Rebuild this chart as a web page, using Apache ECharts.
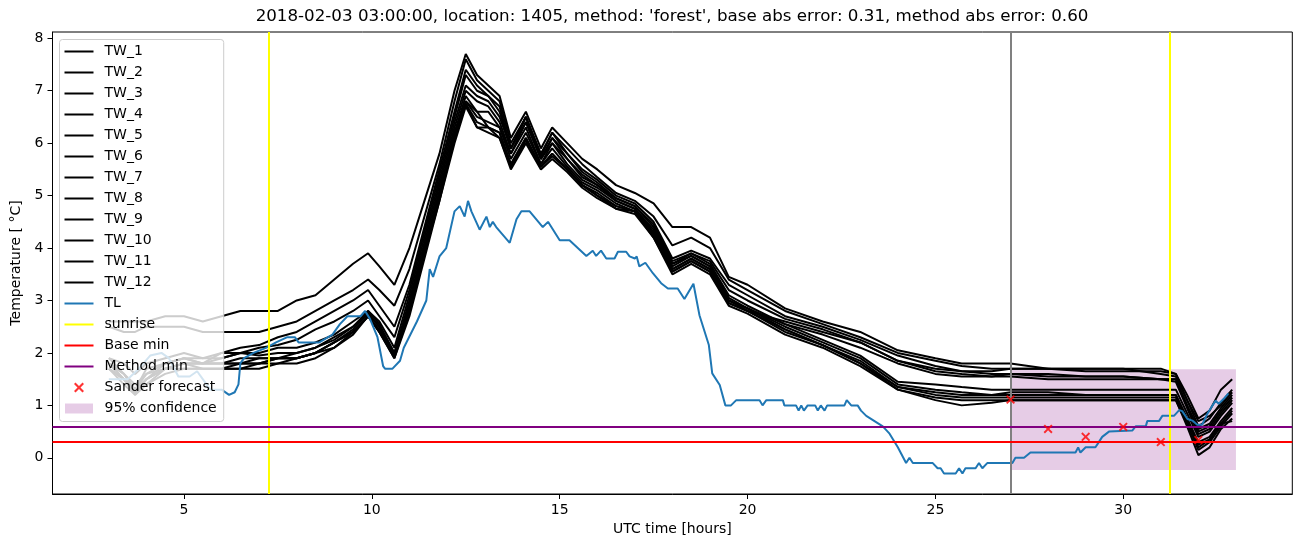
<!DOCTYPE html>
<html>
<head>
<meta charset="utf-8">
<script src="https://cdn.jsdelivr.net/npm/echarts@6/dist/echarts.min.js"></script>
<style>
html, body { margin: 0; padding: 0; background: #fff; }
#main { width: 1302px; height: 547px; }
</style>
</head>
<body>
<div id="main"></div>
<script>
var knotX = [3.0, 3.4, 3.7, 4.0, 4.5, 5.0, 5.5, 6.0, 6.5, 7.0,
  7.5, 8.0, 8.5, 9.0, 9.5, 9.9, 10.2, 10.6, 11.0, 11.4,
  11.8, 12.2, 12.5, 12.8, 13.1, 13.4, 13.7, 14.1, 14.5, 14.8,
  15.2, 15.6, 16.0, 16.5, 17.0, 17.5, 18.0, 18.5, 19.0, 19.5,
  20.0, 21.0, 22.0, 23.0, 24.0, 25.0, 25.7, 26.5, 27.0, 28.0,
  29.0, 30.0, 31.0, 31.4, 31.7, 32.0, 32.3, 32.6, 32.9];

var tw1 = [2.6, 2.6, 2.6, 2.6, 2.7, 2.7, 2.6, 2.7, 2.8, 2.8,
  2.8, 3.0, 3.1, 3.4, 3.7, 3.9, 3.65, 3.3, 4.0, 4.9,
  5.8, 7.0, 7.7, 7.3, 7.1, 6.9, 6.1, 6.6, 5.9, 6.3,
  6.0, 5.7, 5.5, 5.2, 5.05, 4.85, 4.4, 4.4, 4.2, 3.45,
  3.3, 2.85, 2.6, 2.4, 2.05, 1.9, 1.8, 1.8, 1.8, 1.7,
  1.7, 1.7, 1.7, 1.6, 1.2, 0.75, 0.9, 1.3, 1.5];
var tw2 = [2.5, 2.4, 2.4, 2.5, 2.5, 2.5, 2.4, 2.4, 2.4, 2.4,
  2.5, 2.6, 2.8, 3.0, 3.2, 3.4, 3.2, 2.9, 3.6, 4.6,
  5.6, 6.8, 7.6, 7.2, 7.0, 6.8, 6.0, 6.5, 5.8, 6.2,
  5.9, 5.6, 5.35, 5.05, 4.9, 4.6, 4.05, 4.2, 4.0, 3.4,
  3.2, 2.8, 2.55, 2.3, 2.0, 1.85, 1.75, 1.7, 1.7, 1.7,
  1.7, 1.7, 1.6, 1.55, 1.1, 0.6, 0.75, 1.05, 1.3];
var tw3 = [1.9, 1.8, 1.6, 1.8, 1.9, 2.0, 1.9, 2.0, 2.1, 2.15,
  2.3, 2.4, 2.6, 2.8, 3.0, 3.2, 2.9, 2.5, 3.3, 4.4,
  5.5, 6.6, 7.4, 7.1, 6.9, 6.7, 5.9, 6.5, 5.75, 6.2,
  5.8, 5.5, 5.3, 5.0, 4.85, 4.5, 3.8, 3.95, 3.8, 3.3,
  3.1, 2.7, 2.5, 2.25, 1.95, 1.75, 1.65, 1.6, 1.6, 1.6,
  1.55, 1.55, 1.5, 1.5, 1.0, 0.55, 0.65, 0.95, 1.2];
var tw4 = [1.8, 1.5, 1.3, 1.7, 1.8, 1.9, 1.8, 2.0, 2.0, 2.1,
  2.15, 2.25, 2.45, 2.6, 2.8, 3.0, 2.7, 2.3, 3.2, 4.3,
  5.4, 6.5, 7.3, 7.0, 6.9, 6.6, 5.9, 6.5, 5.7, 6.1,
  5.8, 5.45, 5.25, 4.95, 4.8, 4.45, 3.75, 3.9, 3.75, 3.2,
  3.0, 2.65, 2.45, 2.2, 1.85, 1.65, 1.6, 1.55, 1.55, 1.5,
  1.5, 1.5, 1.5, 1.45, 0.95, 0.45, 0.55, 0.85, 1.1];
var tw5 = [1.9, 1.6, 1.3, 1.6, 1.8, 1.9, 1.9, 1.9, 2.0, 2.0,
  2.1, 2.1, 2.2, 2.35, 2.6, 2.8, 2.6, 2.1, 3.1, 4.2,
  5.3, 6.4, 7.1, 6.9, 6.8, 6.5, 5.9, 6.4, 5.7, 6.1,
  5.7, 5.4, 5.2, 4.95, 4.8, 4.4, 3.7, 3.9, 3.7, 3.1,
  2.9, 2.55, 2.25, 1.95, 1.45, 1.4, 1.35, 1.3, 1.3, 1.3,
  1.3, 1.3, 1.3, 1.3, 0.85, 0.4, 0.5, 0.8, 1.05];
var tw6 = [1.8, 1.5, 1.25, 1.5, 1.8, 1.9, 1.8, 1.9, 2.0, 1.95,
  2.0, 2.0, 2.1, 2.3, 2.5, 2.8, 2.55, 2.0, 3.0, 4.1,
  5.2, 6.3, 7.0, 6.8, 6.7, 6.4, 5.8, 6.4, 5.7, 6.0,
  5.7, 5.35, 5.2, 4.9, 4.75, 4.35, 3.7, 3.85, 3.65, 3.05,
  2.85, 2.5, 2.2, 1.9, 1.4, 1.3, 1.25, 1.2, 1.2, 1.2,
  1.2, 1.2, 1.2, 1.2, 0.75, 0.3, 0.4, 0.7, 0.95];
var tw7 = [1.8, 1.6, 1.3, 1.5, 1.7, 1.8, 1.8, 1.8, 1.9, 1.9,
  1.9, 2.0, 2.1, 2.25, 2.5, 2.75, 2.5, 2.0, 2.9, 4.0,
  5.1, 6.2, 6.9, 6.6, 6.6, 6.3, 5.8, 6.3, 5.6, 6.0,
  5.6, 5.3, 5.15, 4.9, 4.75, 4.3, 3.65, 3.85, 3.65, 3.0,
  2.85, 2.45, 2.15, 1.85, 1.35, 1.2, 1.15, 1.15, 1.15, 1.15,
  1.15, 1.15, 1.15, 1.15, 0.7, 0.25, 0.35, 0.65, 0.9];
var tw8 = [1.7, 1.5, 1.3, 1.5, 1.7, 1.8, 1.8, 1.8, 1.8, 1.9,
  1.9, 1.9, 2.0, 2.2, 2.45, 2.75, 2.5, 1.95, 2.9, 4.0,
  5.0, 6.1, 6.8, 6.5, 6.4, 6.3, 5.7, 6.2, 5.6, 5.9,
  5.55, 5.25, 5.1, 4.85, 4.7, 4.25, 3.6, 3.8, 3.6, 3.0,
  2.8, 2.45, 2.15, 1.8, 1.3, 1.1, 1.0, 1.05, 1.1, 1.1,
  1.1, 1.1, 1.1, 1.1, 0.65, 0.15, 0.3, 0.6, 0.85];
var tw9 = [1.7, 1.4, 1.2, 1.5, 1.7, 1.8, 1.7, 1.7, 1.8, 1.8,
  1.9, 1.9, 2.0, 2.2, 2.4, 2.7, 2.45, 1.95, 2.8, 3.9,
  5.0, 6.2, 6.8, 6.6, 6.3, 6.2, 5.6, 6.1, 5.55, 5.8,
  5.5, 5.2, 5.05, 4.8, 4.7, 4.3, 3.6, 3.8, 3.6, 3.0,
  2.85, 2.55, 2.35, 2.1, 1.8, 1.6, 1.55, 1.55, 1.6, 1.55,
  1.55, 1.55, 1.5, 1.5, 1.0, 0.5, 0.6, 0.9, 1.15];
var tw10 = [1.7, 1.5, 1.3, 1.4, 1.7, 1.7, 1.7, 1.7, 1.7, 1.8,
  1.8, 1.9, 2.0, 2.1, 2.4, 2.7, 2.4, 1.9, 2.8, 3.9,
  4.9, 6.1, 6.75, 6.3, 6.3, 6.1, 5.55, 6.05, 5.55, 5.75,
  5.5, 5.2, 5.0, 4.75, 4.7, 4.25, 3.55, 3.75, 3.55, 2.95,
  2.8, 2.6, 2.4, 2.2, 1.85, 1.7, 1.65, 1.65, 1.7, 1.7,
  1.65, 1.65, 1.65, 1.6, 1.1, 0.7, 0.8, 1.0, 1.25];
var tw11 = [1.7, 1.5, 1.2, 1.4, 1.6, 1.7, 1.7, 1.7, 1.7, 1.7,
  1.8, 1.8, 1.9, 2.1, 2.35, 2.7, 2.4, 1.9, 2.7, 3.8,
  4.9, 6.0, 6.7, 6.3, 6.2, 6.1, 5.5, 6.0, 5.5, 5.7,
  5.45, 5.15, 4.95, 4.75, 4.65, 4.2, 3.5, 3.7, 3.5, 2.9,
  2.75, 2.35, 2.1, 1.75, 1.3, 1.15, 1.1, 1.1, 1.1, 1.1,
  1.1, 1.1, 1.1, 1.1, 0.6, 0.05, 0.2, 0.55, 0.75];
var tw12 = [1.8, 1.6, 1.4, 1.6, 1.7, 1.8, 1.8, 1.8, 1.8, 1.8,
  1.9, 1.9, 2.0, 2.2, 2.4, 2.7, 2.4, 1.95, 2.8, 3.9,
  5.0, 6.1, 6.75, 6.4, 6.3, 6.2, 5.6, 6.1, 5.55, 5.8,
  5.5, 5.2, 5.0, 4.8, 4.7, 4.2, 3.55, 3.75, 3.55, 2.95,
  2.8, 2.4, 2.15, 1.8, 1.35, 1.25, 1.2, 1.2, 1.25, 1.25,
  1.2, 1.2, 1.2, 1.2, 0.75, 0.2, 0.35, 0.65, 0.7];

// TL curve
var tlX = [3.0, 3.5, 3.8, 4.1, 4.4, 4.6, 4.85, 5.15, 5.35, 5.5,
  5.7, 6.0, 6.2, 6.35, 6.45, 6.5, 6.6, 6.85, 7.2, 7.45,
  7.75, 7.95, 8.05, 8.3, 8.6, 8.95, 9.15, 9.35, 9.7, 9.82,
  9.95, 10.15, 10.3, 10.35, 10.55, 10.75, 10.85, 11.2, 11.45, 11.54,
  11.63, 11.8, 11.98, 12.2, 12.34, 12.47, 12.56, 12.65, 12.87, 13.05,
  13.14, 13.22, 13.31, 13.67, 13.85, 13.98, 14.2, 14.55, 14.69, 15.0,
  15.26, 15.71, 15.88, 15.97, 16.1, 16.24, 16.46, 16.55, 16.77, 16.86,
  17.0, 17.05, 17.12, 17.28, 17.48, 17.7, 17.88, 18.14, 18.32, 18.56,
  18.72, 18.97, 19.06, 19.26, 19.41, 19.56, 19.7, 20.32, 20.4, 20.5,
  20.94, 20.98, 21.29, 21.36, 21.43, 21.5, 21.6, 21.8, 21.87, 21.95,
  22.05, 22.12, 22.58, 22.64, 22.76, 22.93, 23.02, 23.16, 23.38, 23.6,
  23.78, 24.0, 24.22, 24.31, 24.4, 24.93, 25.06, 25.14, 25.23, 25.54,
  25.63, 25.72, 25.8, 26.07, 26.16, 26.25, 26.38, 27.05, 27.13, 27.36,
  27.53, 28.73, 28.8, 28.86, 29.0, 29.26, 29.35, 29.44, 29.62, 30.24,
  30.33, 30.6, 30.64, 30.95, 31.04, 31.35, 31.49, 31.57, 31.71, 31.84,
  31.97, 32.1, 32.24, 32.37, 32.46, 32.54, 32.67, 32.8];
var tlY = [1.5, 1.5, 1.7, 1.95, 2.0, 1.9, 1.55, 1.55, 1.65, 1.5,
  1.3, 1.3, 1.2, 1.25, 1.4, 1.8, 1.9, 2.0, 2.1, 2.2,
  2.3, 2.3, 2.2, 2.2, 2.2, 2.35, 2.55, 2.7, 2.7, 2.8,
  2.65, 2.3, 1.75, 1.7, 1.7, 1.85, 2.1, 2.6, 3.0, 3.6,
  3.45, 3.84, 4.0, 4.7, 4.8, 4.6, 4.9, 4.7, 4.35, 4.6,
  4.4, 4.5, 4.4, 4.1, 4.55, 4.7, 4.7, 4.4, 4.5, 4.15,
  4.15, 3.85, 3.95, 3.85, 3.95, 3.8, 3.8, 3.93, 3.93, 3.84,
  3.8, 3.84, 3.65, 3.72, 3.52, 3.33, 3.23, 3.23, 3.03, 3.32,
  2.72, 2.15, 1.61, 1.39, 1.0, 1.0, 1.1, 1.1, 1.0, 1.1,
  1.1, 1.0, 1.0, 0.9, 1.0, 0.9, 1.0, 1.0, 0.9, 1.0,
  0.9, 1.0, 1.0, 1.1, 1.0, 1.0, 0.9, 0.8, 0.7, 0.6,
  0.46, 0.2, -0.1, 0.0, -0.1, -0.1, -0.2, -0.2, -0.3, -0.3,
  -0.2, -0.3, -0.2, -0.2, -0.1, -0.2, -0.1, -0.1, 0.0, 0.0,
  0.1, 0.1, 0.2, 0.1, 0.2, 0.2, 0.3, 0.4, 0.5, 0.52,
  0.6, 0.6, 0.7, 0.7, 0.8, 0.8, 0.91, 0.89, 0.74, 0.71,
  0.63, 0.63, 0.84, 0.99, 1.09, 1.03, 1.12, 1.23];

// markers, reference lines and band
var sanderX = [27, 28, 29, 30, 31, 32];
var sanderY = [1.11, 0.55, 0.40, 0.59, 0.30, 0.34];
var sunriseX = [7.25, 31.25];
var forecastX = 27;
var baseMin = 0.31;
var methodMin = 0.60;
var bandX = [27, 33];
var bandY = [-0.23, 1.69];
var xTicks = [5, 10, 15, 20, 25, 30];
var yTicks = [0, 1, 2, 3, 4, 5, 6, 7, 8];

var myChart = echarts.init(document.getElementById('main'));

var font = 'DejaVu Sans';
var lineIcon = 'path://M0,0 H29 V2 H0 Z';
// filled "x" so it takes the fill colour
var crossIcon = 'path://M0,1.5 L1.5,0 L5,3.5 L8.5,0 L10,1.5 L6.5,5 L10,8.5 L8.5,10 L5,6.5 L1.5,10 L0,8.5 L3.5,5 Z';
var boxIcon = 'path://M0,0 H28 V10 H0 Z';

function pairs(xs, ys) {
  return xs.map(function (x, i) { return [x, ys[i]]; });
}

var twAll = [tw1, tw2, tw3, tw4, tw5, tw6, tw7, tw8, tw9, tw10, tw11, tw12];
var series = [];
var legendData = [];

// 95% band (drawn first, underneath)
series.push({
  name: '95% confidence', type: 'line', data: [],
  color: 'rgba(128,0,128,0.2)',
  markArea: {
    silent: true,
    itemStyle: { color: 'rgba(128,0,128,0.2)' },
    data: [[{ coord: [bandX[0], bandY[0]] }, { coord: [bandX[1], bandY[1]] }]]
  }
});

twAll.forEach(function (arr, i) {
  series.push({
    name: 'TW_' + (i + 1), type: 'line', data: pairs(knotX, arr),
    symbol: 'none', color: '#000',
    lineStyle: { color: '#000', width: 2 }
  });
  legendData.push({ name: 'TW_' + (i + 1), icon: lineIcon });
});

series.push({
  name: 'TL', type: 'line', data: pairs(tlX, tlY),
  symbol: 'none', color: '#1f77b4',
  lineStyle: { color: '#1f77b4', width: 2 }
});
legendData.push({ name: 'TL', icon: lineIcon });

// forecast time, no legend entry
series.push({
  name: 'forecast time', type: 'line', data: [],
  markLine: {
    silent: true, symbol: 'none', label: { show: false },
    lineStyle: { color: '#808080', width: 2, type: 'solid' },
    data: [{ xAxis: forecastX }]
  }
});

series.push({
  name: 'sunrise', type: 'line', data: [], color: '#ffff00',
  markLine: {
    silent: true, symbol: 'none', label: { show: false },
    lineStyle: { color: '#ffff00', width: 2, type: 'solid' },
    data: sunriseX.map(function (x) { return { xAxis: x }; })
  }
});
legendData.push({ name: 'sunrise', icon: lineIcon });

series.push({
  name: 'Base min', type: 'line', data: [], color: '#ff0000',
  markLine: {
    silent: true, symbol: 'none', label: { show: false },
    lineStyle: { color: '#ff0000', width: 2, type: 'solid' },
    data: [{ yAxis: baseMin }]
  }
});
legendData.push({ name: 'Base min', icon: lineIcon });

series.push({
  name: 'Method min', type: 'line', data: [], color: '#800080',
  markLine: {
    silent: true, symbol: 'none', label: { show: false },
    lineStyle: { color: '#800080', width: 2, type: 'solid' },
    data: [{ yAxis: methodMin }]
  }
});
legendData.push({ name: 'Method min', icon: lineIcon });

series.push({
  name: 'Sander forecast', type: 'scatter', data: pairs(sanderX, sanderY),
  symbol: crossIcon, symbolSize: 9, color: '#ff0000', z: 5
});
legendData.push({ name: 'Sander forecast', icon: crossIcon });
legendData.push({ name: '95% confidence', icon: boxIcon });

var option = {
  animation: false,
  textStyle: { fontFamily: font },
  title: {
    text: "2018-02-03 03:00:00, location: 1405, method: 'forest', base abs error: 0.31, method abs error: 0.60",
    left: 672, top: 8, padding: 0, textAlign: 'center',
    textStyle: { fontFamily: font, fontSize: 16.7, fontWeight: 'normal', color: '#000' }
  },
  grid: {
    left: 52.5, right: 9.7, top: 32, bottom: 53,
    show: true, borderColor: '#000', borderWidth: 1, backgroundColor: 'transparent'
  },
  legend: {
    orient: 'vertical', left: 59.5, top: 39.5,
    padding: [5, 7, 6, 5], itemGap: 7, itemWidth: 29, itemHeight: 10,
    backgroundColor: 'rgba(255,255,255,0.8)', borderColor: '#cccccc', borderWidth: 1, borderRadius: 3,
    itemStyle: { borderWidth: 0 },
    textStyle: { fontFamily: font, fontSize: 14, color: '#000', lineHeight: 14, padding: [0, 0, 0, 6] },
    selectedMode: false,
    data: legendData
  },
  xAxis: {
    type: 'value', min: 1.5, max: 34.5,
    name: 'UTC time [hours]', nameLocation: 'middle', nameGap: 27,
    nameTextStyle: { fontFamily: font, fontSize: 14, color: '#000' },
    axisLine: { onZero: false, lineStyle: { color: '#000', width: 1 } },
    axisTick: { inside: false, length: 5, customValues: xTicks, lineStyle: { color: '#000' } },
    axisLabel: { customValues: xTicks, margin: 9, fontFamily: font, fontSize: 14, color: '#000' },
    splitLine: { show: false }
  },
  yAxis: {
    type: 'value', min: -0.69, max: 8.12,
    name: 'Temperature [ \u00b0C]', nameLocation: 'middle', nameGap: 25, nameRotate: 90,
    nameTextStyle: { fontFamily: font, fontSize: 14, color: '#000' },
    axisLine: { onZero: false, lineStyle: { color: '#000', width: 1 } },
    axisTick: { inside: false, length: 5, customValues: yTicks, lineStyle: { color: '#000' } },
    axisLabel: { customValues: yTicks, margin: 9, fontFamily: font, fontSize: 14, color: '#000' },
    splitLine: { show: false }
  },
  series: series
};

myChart.setOption(option);
</script>
</body>
</html>
